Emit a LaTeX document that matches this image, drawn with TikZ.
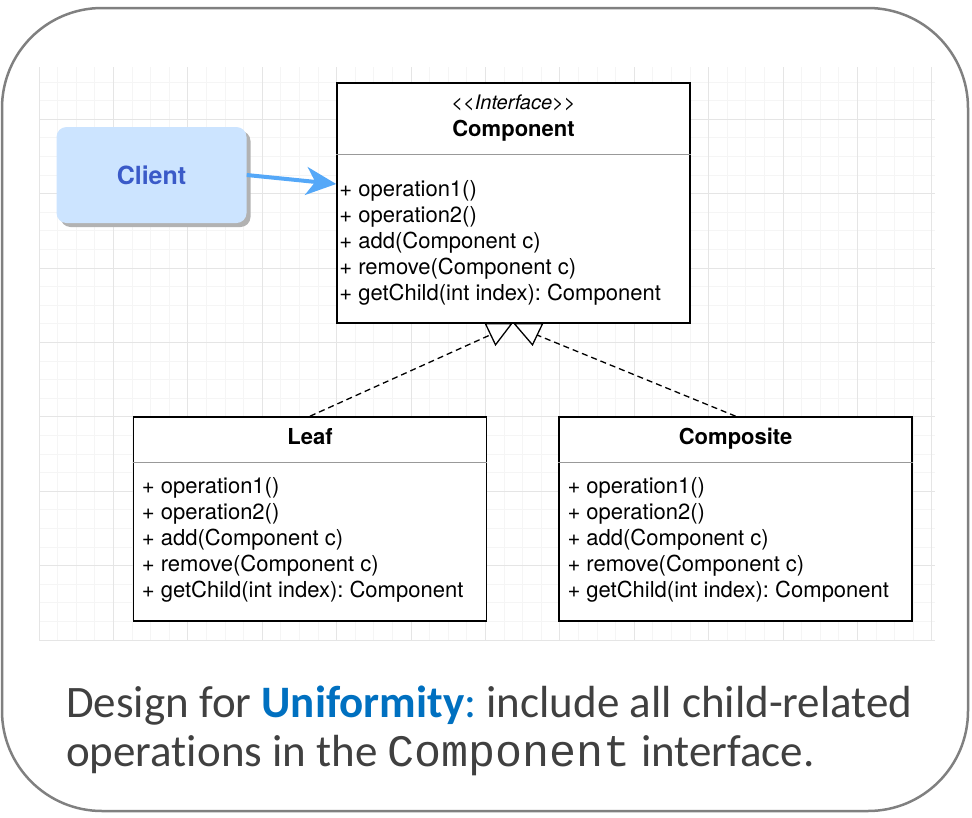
\documentclass[tikz,border=0pt]{standalone}
\usepackage{fontspec}
\setmainfont{TeX Gyre Heros}
\newfontfamily\slidefont[Ligatures=NoCommon]{Carlito}
\newfontfamily\codefont{Liberation Mono}
\usetikzlibrary{arrows.meta,positioning,calc,shadows}
\definecolor{clientfill}{RGB}{204,228,255}
\definecolor{clienttext}{RGB}{58,90,200}
\definecolor{usearrow}{RGB}{85,168,248}
\definecolor{captext}{RGB}{64,64,64}
\definecolor{uniblue}{RGB}{0,112,192}
\definecolor{framegray}{RGB}{128,128,128}
\newcommand\opslist{+ operation1(),+ operation2(),+ add(Component c),+ remove(Component c),+ getChild(int index): Component}
\frenchspacing

\begin{document}
\begin{tikzpicture}[x=1pt,y=-1pt,
  classbox/.style={draw,line width=1.6pt,fill=white,minimum width=353pt,inner sep=0pt},
  classname/.style={anchor=base,inner sep=0pt,font=\fontsize{22}{26}\selectfont\bfseries},
  op/.style={anchor=base west,inner sep=0pt,font=\fontsize{22}{26}\selectfont},
  divider/.style={draw=black!40,line width=1.4pt},
  realize/.style={dash pattern=on 6pt off 4pt,line width=1.3pt},
  hollow/.style={draw,fill=white,line width=1.3pt,line join=miter},
  minorgrid/.style={draw=black!4,line width=0.8pt},
  majorgrid/.style={draw=black!10,line width=1pt}]
\useasboundingbox (0,0) rectangle (972,817);
\foreach \i in {0,...,48}
  \draw[minorgrid] ({39+18.6*\i},67) -- ({39+18.6*\i},640);
\foreach \i in {0,...,30}
  \draw[minorgrid] (39,{640-18.6*\i}) -- (935,{640-18.6*\i});
\foreach \i in {0,...,12}
  \draw[majorgrid] ({39+74.4*\i},67) -- ({39+74.4*\i},640);
\foreach \i in {0,...,7}
  \draw[majorgrid] (39,{640-74.4*\i}) -- (935,{640-74.4*\i});
\draw[framegray,line width=2.5pt,rounded corners=100pt] (2,8) rectangle (968,811);

\node[classbox,minimum height=240pt] (comp) at (513.5,203) {};
\node[classbox,minimum height=204pt] (leaf) at (310,519) {};
\node[classbox,minimum height=204pt,right=71pt of leaf] (composite) {};
\node[fill=clientfill,rounded corners=10pt,minimum width=190pt,minimum height=96pt,
  drop shadow={shadow xshift=4pt,shadow yshift=-4pt,fill=black!30,opacity=1},
  text=clienttext,font=\fontsize{25}{30}\selectfont\bfseries] (client) at (151.5,175) {Client};

\node[anchor=base,inner sep=0pt,font=\fontsize{20}{24}\selectfont\itshape] at ($(comp.north)+(0,27)$) {<{}<Interface>{}>};
\node[classname] at ($(comp.north)+(0,54)$) {Component};
\draw[divider] ($(comp.north west)+(0,72)$) -- ($(comp.north east)+(0,72)$);
\foreach \op [count=\k] in \opslist
  \node[op] at ($(comp.north west)+(3,88+26*\k)$) {\op};

\foreach \cls/\name in {leaf/Leaf,composite/Composite}{
  \node[classname] at ($(\cls.north)+(0,28)$) {\name};
  \draw[divider] ($(\cls.north west)+(0,46)$) -- ($(\cls.north east)+(0,46)$);
  \foreach \op [count=\k] in \opslist
    \node[op] at ($(\cls.north west)+(9,51+26*\k)$) {\op};
}

\coordinate (tipl) at ($(comp.south)+(-23,11)$);
\coordinate (tipr) at ($(comp.south)+(23,11)$);
\draw[realize] (leaf.north) -- (tipl);
\draw[realize] (composite.north) -- (tipr);
\draw[hollow] ($(comp.south)+(-28,0)$) -- ++(10,21) -- ++(16,-21) -- cycle;
\draw[hollow] ($(comp.south)+(1,0)$) -- ++(18,21) -- ++(10,-21) -- cycle;

\draw[usearrow,line width=4pt,-{Stealth[length=30pt,width=28pt,inset=9pt]}] (client.east) -- ($(comp.west)+(0,-19)$);

\node[anchor=base west,inner sep=0pt,align=left,text=captext,font=\slidefont\fontsize{45}{49}\selectfont] (caption) at (66,766)
  {Design for {\color{uniblue}\bfseries Uniformity}{\color{uniblue}:} include all child-related\\operations in the {\codefont Component} interface.};
\end{tikzpicture}
\end{document}
